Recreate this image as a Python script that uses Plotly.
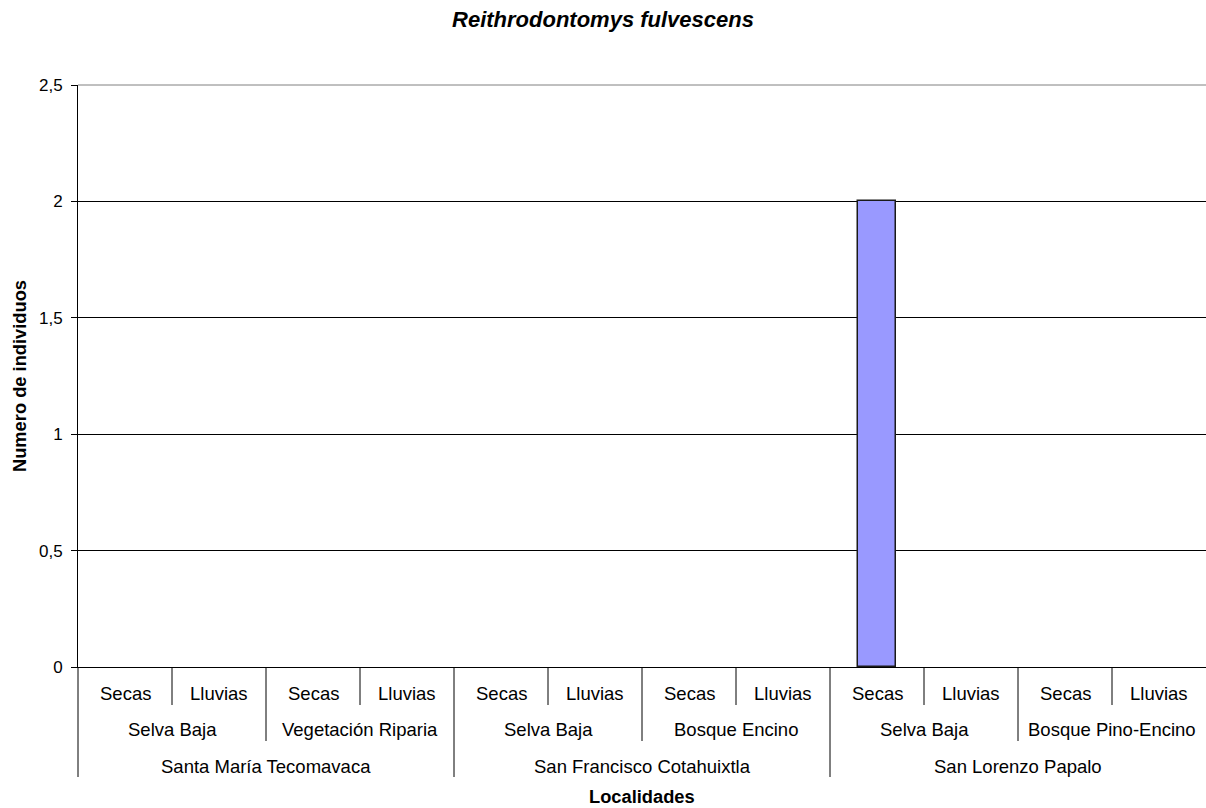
import plotly.graph_objects as go

# ---- data ----
localidades = ["Santa María Tecomavaca", "San Francisco Cotahuixtla", "San Lorenzo Papalo"]
habitats = [["Selva Baja", "Vegetación Riparia"],
            ["Selva Baja", "Bosque Encino"],
            ["Selva Baja", "Bosque Pino-Encino"]]
temporadas = ["Secas", "Lluvias"]
valores = [0, 0, 0, 0, 0, 0, 0, 0, 2, 0, 0, 0]
y_ticks = [0, 0.5, 1, 1.5, 2, 2.5]
y_ticktext = ["0", "0,5", "1", "1,5", "2", "2,5"]

FONT = "Liberation Sans, Arial, sans-serif"
W, H = 1206, 808
ML, MR, MT, MB = 78, 0, 85, 141
PLOT_H = H - MT - MB
CAT_SIZE = 18.5


def py(px):
    """pixel y -> paper y"""
    return (H - MB - px) / PLOT_H


n = len(valores)
xs = list(range(n))

fig = go.Figure()
fig.add_trace(go.Bar(
    x=xs, y=valores, width=0.4,
    marker=dict(color="#9999FF",
                line=dict(color="#1a1a1a",
                          width=[1.5 if v > 0 else 0 for v in valores])),
    hoverinfo="y",
))

annotations = []
shapes = []

# row 1: temporadas
for i in xs:
    annotations.append(dict(x=i, y=py(693), xref="x", yref="paper",
                            text=temporadas[i % 2], showarrow=False,
                            font=dict(family=FONT, size=CAT_SIZE, color="black"),
                            xanchor="center", yanchor="middle"))
# row 2: habitats
k = 0
for li, hs in enumerate(habitats):
    for h in hs:
        c = k * 2 + 0.5
        annotations.append(dict(x=c, y=py(729.5), xref="x", yref="paper",
                                text=h, showarrow=False,
                                font=dict(family=FONT, size=CAT_SIZE, color="black"),
                                xanchor="center", yanchor="middle"))
        k += 1
# row 3: localidades
for li, loc in enumerate(localidades):
    c = li * 4 + 1.5
    annotations.append(dict(x=c, y=py(766), xref="x", yref="paper",
                            text=loc, showarrow=False,
                            font=dict(family=FONT, size=CAT_SIZE, color="black"),
                            xanchor="center", yanchor="middle"))

# separators
line = dict(color="black", width=1)
for b in range(1, n):
    xb = b - 0.5
    if b % 4 == 0:
        y1 = 777
    elif b % 2 == 0:
        y1 = 741
    else:
        y1 = 705
    shapes.append(dict(type="line", xref="x", yref="paper", x0=xb, x1=xb,
                       y0=py(667), y1=py(y1), line=line))
shapes.append(dict(type="line", xref="paper", yref="paper", x0=0, x1=0,
                   y0=py(667), y1=py(777), line=line))
# top border (grey)
shapes.append(dict(type="line", xref="paper", yref="paper", x0=0, x1=1,
                   y0=1, y1=1, line=dict(color="#808080", width=1)))

# axis titles
annotations.append(dict(x=0.5, y=py(796.5), xref="paper", yref="paper",
                        text="<b>Localidades</b>", showarrow=False,
                        font=dict(family=FONT, size=18.3, color="black"),
                        xanchor="center", yanchor="middle"))
annotations.append(dict(x=(19 - ML) / (W - ML - MR), y=0.5, xref="paper", yref="paper",
                        text="<b>Numero de individuos</b>", showarrow=False,
                        textangle=-90,
                        font=dict(family=FONT, size=18.3, color="black"),
                        xanchor="center", yanchor="middle"))

fig.update_layout(
    width=W, height=H,
    margin=dict(l=ML, r=MR, t=MT, b=MB, pad=0),
    paper_bgcolor="white", plot_bgcolor="white",
    showlegend=False,
    title=dict(text="<b><i>Reithrodontomys fulvescens</i></b>",
               x=0.5, xanchor="center", xref="container",
               y=1 - 19 / H, yanchor="middle", yref="container",
               font=dict(family=FONT, size=22, color="black")),
    font=dict(family=FONT, color="black"),
    annotations=annotations,
    shapes=shapes,
    bargap=0,
)
fig.update_xaxes(range=[-0.5, n - 0.5], showticklabels=False, ticks="",
                 showgrid=False, zeroline=False,
                 showline=True, linecolor="black", linewidth=1)
fig.update_yaxes(range=[0, 2.5], tickvals=y_ticks, ticktext=y_ticktext,
                 ticks="outside", ticklen=6, tickcolor="black",
                 ticklabelstandoff=5,
                 tickfont=dict(family=FONT, size=17, color="black"),
                 showgrid=True, gridcolor="black", gridwidth=1,
                 zeroline=False,
                 showline=True, linecolor="black", linewidth=1)

fig.write_html("out.html")
